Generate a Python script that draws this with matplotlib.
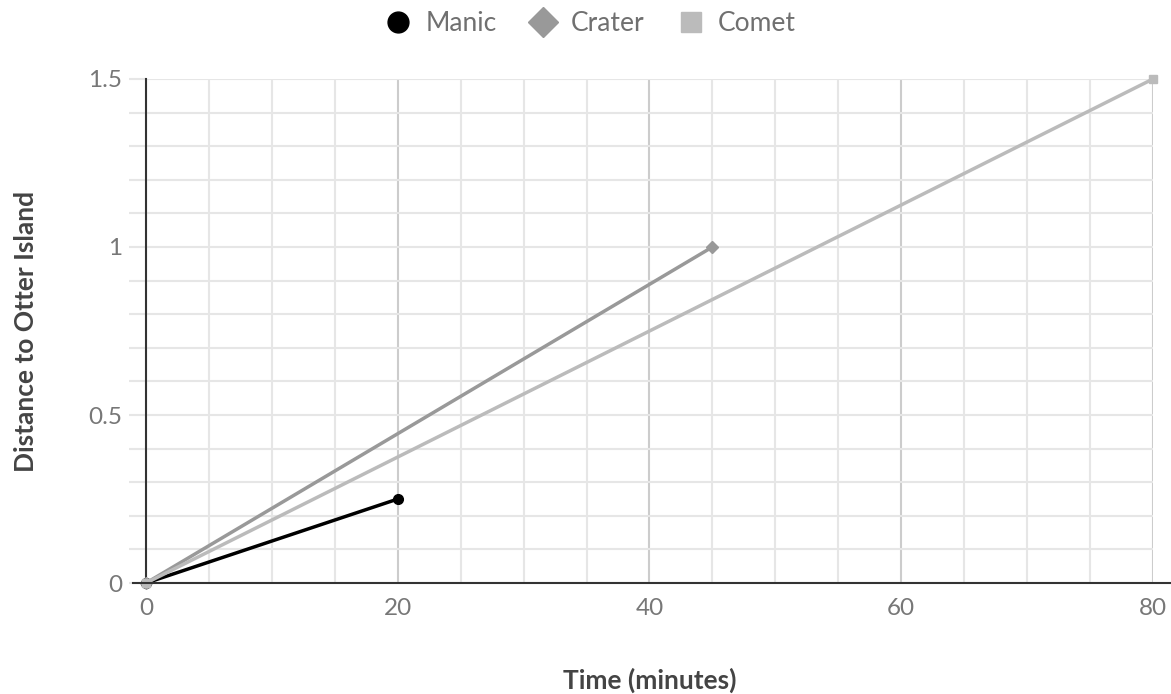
import matplotlib.pyplot as plt
from matplotlib.ticker import MultipleLocator
from matplotlib.lines import Line2D
import matplotlib.transforms as mtransforms

plt.rcParams['font.family'] = ['Lato', 'DejaVu Sans']

series = ["Manic", "Crater", "Comet"]
times = [[0, 20], [0, 45], [0, 80]]
dists = [[0, 0.25], [0, 1.0], [0, 1.5]]
colors = ["#000000", "#999999", "#bbbbbb"]
markers = ["o", "D", "s"]
sizes = [7, 6, 6]

fig = plt.figure(figsize=(11.71, 6.94), dpi=100)
ax = fig.add_axes([0.1247, 0.1599, 0.8599, 0.7263])

for name, t, d, c, m, s in zip(series, times, dists, colors, markers, sizes):
    ax.plot(t, d, color=c, lw=2.5, marker=m, markersize=s, label=name,
            clip_on=False, zorder=3)

ax.set_xlim(0, 80)
ax.set_ylim(0, 1.5)
ax.xaxis.set_major_locator(MultipleLocator(20))
ax.xaxis.set_minor_locator(MultipleLocator(5))
ax.yaxis.set_minor_locator(MultipleLocator(0.1))
ax.set_yticks([0, 0.5, 1, 1.5])
ax.set_yticklabels(["0", "0.5", "1", "1.5"])

ax.grid(which="major", axis="x", color="#cccccc", lw=1.5)
ax.grid(which="minor", axis="x", color="#e6e6e6", lw=1.5)
ax.grid(which="both", axis="y", color="#e6e6e6", lw=1.5)
ax.set_axisbelow(True)

for sp in ["top", "right"]:
    ax.spines[sp].set_visible(False)
ax.spines["left"].set_color("#333333")
ax.spines["left"].set_linewidth(1.5)
ax.spines["bottom"].set_visible(False)
trans = mtransforms.blended_transform_factory(fig.transFigure, ax.transData)
ax.add_line(Line2D([133 / 1171, 1.0], [0, 0], transform=trans, color="#333333",
                   lw=1.5, clip_on=False, zorder=4))

ax.tick_params(axis="x", which="both", length=0, pad=11, labelsize=17.5,
               labelcolor="#777777")
ax.tick_params(axis="y", which="both", length=12, width=1.5, color="#e6e6e6",
               pad=5, labelsize=17.5, labelcolor="#777777")

ax.set_xlabel("Time (minutes)", fontsize=19, fontweight="bold", color="#444444",
              labelpad=35)
ax.set_ylabel("Distance to Otter Island", fontsize=19, fontweight="bold",
              color="#444444", labelpad=36)

leg = ax.legend(loc="center", bbox_to_anchor=(0.442, 1.11), ncol=3,
                frameon=False, fontsize=19, handlelength=0.9,
                columnspacing=1.3, handletextpad=0.6)
for txt in leg.get_texts():
    txt.set_color("#707070")
for h in leg.legend_handles:
    h.set_linestyle("none")
    h.set_markersize(15)

fig.savefig("out.png", dpi=100)
